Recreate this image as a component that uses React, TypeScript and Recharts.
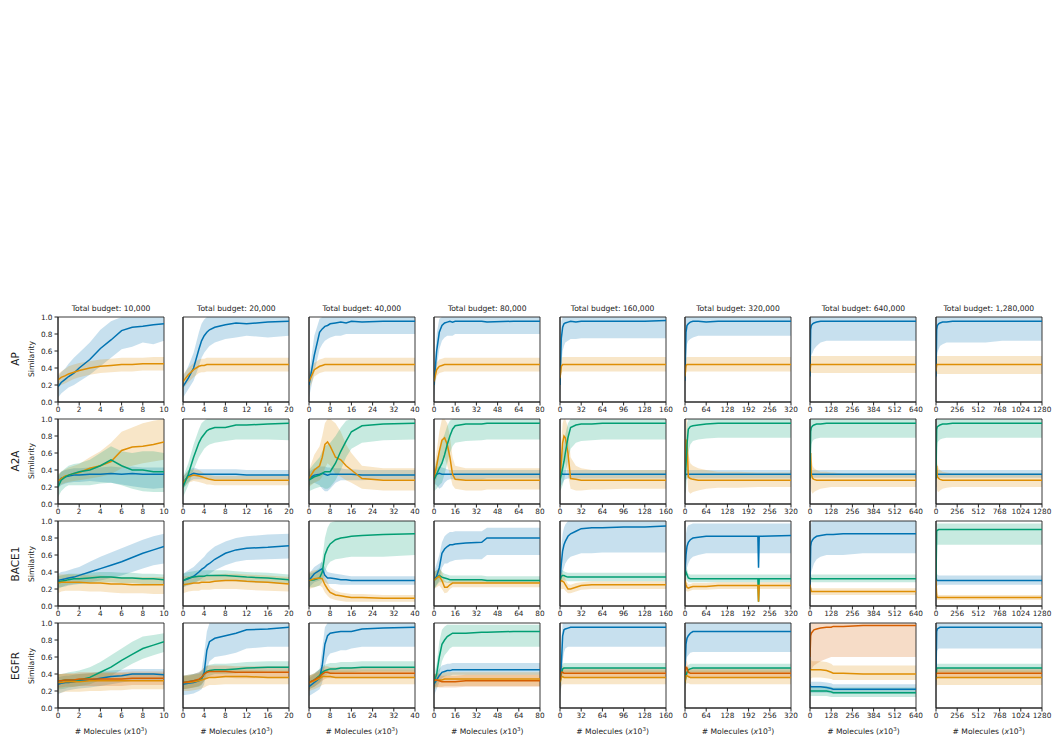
import React from 'react'
import { ComposedChart, Line, Area, XAxis, YAxis, ReferenceArea } from 'recharts'

// x positions (thousands of molecules) at which every series is sampled, one list per budget column
const X_GRID = [
  [0, 0.3, 0.7, 1, 1.5, 2, 3, 4, 5, 6, 7, 8, 9, 10],
  [0, 1, 2, 3, 3.5, 4, 4.5, 5, 6, 8, 10, 12, 16, 20],
  [0, 2, 4, 5, 6, 7, 8, 10, 12, 14, 16, 20, 28, 40],
  [0, 2, 4, 6, 8, 10, 12, 14, 16, 24, 36, 40, 60, 80],
  [0, 2, 4, 6, 8, 12, 16, 24, 32, 48, 64, 96, 128, 160],
  [0, 3, 6, 10, 16, 24, 40, 64, 100, 160, 220, 222, 224, 320],
  [0, 4, 8, 16, 24, 40, 64, 100, 128, 140, 200, 320, 480, 640],
  [0, 8, 16, 32, 48, 80, 128, 200, 300, 450, 600, 800, 1000, 1280],
]
const BUDGETS = [10, 20, 40, 80, 160, 320, 640, 1280]
const BUDGET_LABELS = ['10,000', '20,000', '40,000', '80,000', '160,000', '320,000', '640,000', '1,280,000']
const X_TICKS = [
  [0, 2, 4, 6, 8, 10],
  [0, 4, 8, 12, 16, 20],
  [0, 8, 16, 24, 32, 40],
  [0, 16, 32, 48, 64, 80],
  [0, 32, 64, 96, 128, 160],
  [0, 64, 128, 192, 256, 320],
  [0, 128, 256, 384, 512, 640],
  [0, 256, 512, 768, 1024, 1280],
]
const Y_TICKS = [0, 0.2, 0.4, 0.6, 0.8, 1]

// similarity values in percent, [column][sample]
const AP_BLUE_MEAN = [
  [18, 23, 27, 30, 34, 40, 50, 63, 73, 84, 88, 89, 91, 92],
  [18, 28, 40, 62, 72, 78, 82, 85, 88, 91, 93, 92, 94, 95],
  [20, 55, 82, 86, 89, 90, 92, 93, 94, 93, 95, 94, 95, 95],
  [20, 60, 82, 90, 93, 94, 95, 94, 95, 95, 95, 94, 95, 95],
  [20, 75, 88, 92, 93, 94, 95, 94, 95, 95, 95, 95, 95, 96],
  [25, 82, 90, 92, 94, 95, 95, 94, 95, 95, 95, 95, 95, 95],
  [30, 85, 90, 92, 93, 94, 95, 95, 95, 95, 95, 95, 95, 95],
  [30, 85, 90, 92, 93, 94, 94, 95, 95, 95, 95, 95, 95, 95],
]
const AP_BLUE_LO = [
  [5, 10, 14, 17, 20, 24, 32, 42, 52, 62, 65, 70, 68, 72],
  [5, 15, 25, 42, 52, 58, 62, 66, 70, 74, 76, 78, 76, 78],
  [5, 35, 62, 68, 72, 74, 76, 78, 78, 80, 80, 80, 80, 80],
  [5, 40, 62, 72, 76, 78, 78, 78, 80, 80, 80, 80, 80, 80],
  [5, 45, 60, 66, 70, 72, 74, 74, 75, 75, 75, 75, 75, 75],
  [8, 55, 68, 72, 74, 76, 78, 78, 78, 78, 78, 78, 78, 78],
  [10, 50, 55, 58, 62, 66, 70, 72, 72, 72, 72, 72, 72, 72],
  [10, 50, 58, 62, 66, 68, 70, 70, 70, 70, 70, 72, 72, 72],
]
const AP_BLUE_HI = [
  [30, 35, 40, 45, 52, 58, 70, 85, 95, 100, 100, 100, 100, 100],
  [30, 42, 58, 82, 92, 97, 100, 100, 100, 100, 100, 100, 100, 100],
  [32, 78, 98, 100, 100, 100, 100, 100, 100, 100, 100, 100, 100, 100],
  [32, 80, 98, 100, 100, 100, 100, 100, 100, 100, 100, 100, 100, 100],
  [32, 95, 100, 100, 100, 100, 100, 100, 100, 100, 100, 100, 100, 100],
  [40, 100, 100, 100, 100, 100, 100, 100, 100, 100, 100, 100, 100, 100],
  [45, 100, 100, 100, 100, 100, 100, 100, 100, 100, 100, 100, 100, 100],
  [45, 100, 100, 100, 100, 100, 100, 100, 100, 100, 100, 100, 100, 100],
]
const AP_ORANGE_MEAN = [
  [26, 29, 31, 33, 35, 37, 40, 42, 43, 44, 44, 45, 45, 45],
  [24, 32, 38, 42, 43, 43, 44, 44, 44, 44, 44, 44, 44, 44],
  [24, 38, 42, 43, 44, 44, 44, 44, 44, 44, 44, 44, 44, 44],
  [24, 38, 42, 43, 44, 44, 44, 44, 44, 44, 44, 44, 44, 44],
  [28, 42, 44, 44, 44, 44, 44, 44, 44, 44, 44, 44, 44, 44],
  [30, 43, 44, 44, 44, 44, 44, 44, 44, 44, 44, 44, 44, 44],
  [36, 44, 44, 44, 44, 44, 44, 44, 44, 44, 44, 44, 44, 44],
  [36, 44, 44, 44, 44, 44, 44, 44, 44, 44, 44, 44, 44, 44],
]
const AP_ORANGE_LO = [
  [17, 20, 22, 24, 27, 29, 32, 34, 35, 36, 36, 37, 37, 37],
  [16, 23, 29, 34, 35, 35, 36, 36, 36, 36, 36, 36, 36, 36],
  [15, 30, 34, 35, 36, 36, 36, 36, 36, 36, 36, 36, 36, 36],
  [15, 30, 34, 35, 36, 36, 36, 36, 36, 36, 36, 36, 36, 36],
  [18, 34, 36, 36, 36, 36, 36, 36, 36, 36, 36, 36, 36, 36],
  [20, 35, 36, 36, 36, 36, 36, 36, 36, 36, 36, 36, 36, 36],
  [26, 34, 34, 34, 34, 34, 34, 34, 34, 34, 34, 34, 34, 34],
  [26, 33, 33, 33, 33, 33, 33, 33, 33, 33, 33, 33, 33, 33],
]
const AP_ORANGE_HI = [
  [33, 36, 39, 42, 44, 46, 48, 50, 51, 52, 52, 52, 53, 53],
  [32, 40, 46, 50, 51, 51, 52, 52, 52, 52, 52, 52, 52, 52],
  [32, 46, 50, 51, 52, 52, 52, 52, 52, 52, 52, 52, 52, 52],
  [32, 46, 50, 51, 52, 52, 52, 52, 52, 52, 52, 52, 52, 52],
  [38, 52, 53, 53, 53, 53, 53, 53, 53, 53, 53, 53, 53, 53],
  [40, 52, 53, 53, 53, 53, 53, 53, 53, 53, 53, 53, 53, 53],
  [46, 54, 54, 54, 54, 54, 54, 54, 54, 54, 54, 54, 54, 54],
  [46, 54, 54, 54, 54, 54, 54, 54, 54, 54, 54, 54, 54, 54],
]

const A2A_BLUE_MEAN = [
  [26, 30, 32, 33, 34, 34, 35, 35, 36, 35, 36, 35, 35, 35],
  [25, 33, 36, 35, 35, 35, 35, 35, 35, 35, 35, 34, 34, 34],
  [30, 34, 35, 36, 35, 34, 35, 35, 35, 35, 35, 34, 34, 34],
  [32, 35, 36, 35, 35, 35, 35, 35, 35, 35, 35, 35, 35, 35],
  [33, 36, 35, 35, 35, 35, 35, 35, 35, 35, 35, 35, 35, 35],
  [33, 35, 35, 35, 35, 35, 35, 35, 35, 35, 35, 35, 35, 35],
  [35, 35, 35, 35, 35, 35, 35, 35, 35, 35, 35, 35, 35, 35],
  [35, 35, 35, 35, 35, 35, 35, 35, 35, 35, 35, 35, 35, 35],
]
const A2A_BLUE_LO = [
  [18, 22, 24, 25, 26, 26, 27, 26, 25, 23, 21, 19, 18, 19],
  [18, 26, 29, 29, 29, 29, 29, 29, 29, 29, 29, 29, 29, 29],
  [22, 25, 22, 18, 15, 15, 18, 25, 28, 28, 28, 28, 29, 29],
  [24, 22, 18, 20, 25, 28, 29, 29, 29, 29, 29, 30, 30, 30],
  [20, 22, 25, 28, 29, 30, 30, 30, 30, 30, 30, 30, 30, 30],
  [25, 28, 30, 30, 30, 30, 30, 30, 30, 30, 30, 30, 30, 30],
  [28, 30, 31, 31, 31, 31, 31, 31, 31, 31, 31, 31, 31, 31],
  [28, 30, 31, 31, 31, 31, 31, 31, 31, 31, 31, 31, 31, 31],
]
const A2A_BLUE_HI = [
  [34, 38, 40, 41, 42, 42, 43, 43, 44, 43, 44, 43, 43, 43],
  [32, 40, 43, 41, 41, 41, 41, 41, 41, 41, 41, 40, 40, 40],
  [38, 42, 44, 44, 44, 43, 43, 42, 42, 41, 41, 40, 40, 40],
  [40, 43, 44, 43, 42, 41, 40, 40, 40, 40, 40, 40, 40, 40],
  [40, 42, 41, 40, 40, 40, 40, 40, 40, 40, 40, 40, 40, 40],
  [40, 42, 41, 40, 40, 40, 40, 40, 40, 40, 40, 40, 40, 40],
  [42, 41, 40, 40, 40, 40, 40, 40, 40, 40, 40, 40, 40, 40],
  [42, 41, 40, 40, 40, 40, 40, 40, 40, 40, 40, 40, 40, 40],
]
const A2A_ORANGE_MEAN = [
  [27, 30, 33, 34, 36, 37, 42, 45, 50, 63, 67, 68, 70, 73],
  [25, 32, 34, 33, 32, 31, 30, 29, 28, 28, 28, 28, 28, 28],
  [30, 40, 45, 55, 70, 73, 68, 55, 52, 45, 40, 30, 28, 28],
  [30, 45, 62, 75, 78, 70, 55, 35, 29, 28, 28, 28, 28, 28],
  [30, 50, 72, 80, 78, 60, 30, 29, 28, 28, 28, 28, 28, 28],
  [35, 75, 75, 32, 30, 29, 28, 28, 28, 28, 28, 28, 28, 28],
  [35, 60, 35, 30, 29, 28, 28, 28, 28, 28, 28, 28, 28, 28],
  [35, 45, 32, 30, 29, 28, 28, 28, 28, 28, 28, 28, 28, 28],
]
const A2A_ORANGE_LO = [
  [20, 23, 25, 26, 27, 28, 30, 32, 35, 42, 45, 48, 50, 52],
  [18, 25, 27, 26, 25, 24, 23, 23, 22, 22, 22, 22, 22, 22],
  [20, 25, 28, 32, 42, 48, 45, 35, 32, 28, 25, 18, 16, 16],
  [20, 30, 40, 50, 55, 45, 35, 22, 18, 16, 16, 17, 17, 17],
  [20, 30, 45, 55, 50, 35, 18, 16, 16, 17, 17, 18, 18, 18],
  [20, 40, 40, 15, 12, 14, 16, 18, 19, 19, 20, 20, 20, 20],
  [20, 25, 15, 12, 14, 16, 18, 19, 20, 20, 20, 20, 20, 20],
  [20, 20, 15, 14, 16, 18, 19, 20, 20, 20, 20, 20, 20, 20],
]
const A2A_ORANGE_HI = [
  [35, 38, 41, 43, 45, 47, 55, 62, 72, 85, 90, 95, 98, 100],
  [32, 39, 41, 40, 38, 36, 35, 34, 33, 33, 33, 33, 33, 33],
  [40, 58, 68, 80, 95, 100, 100, 95, 85, 70, 60, 45, 42, 42],
  [40, 62, 85, 100, 100, 95, 80, 55, 45, 42, 42, 42, 42, 42],
  [40, 75, 95, 100, 100, 90, 55, 45, 42, 40, 40, 40, 40, 40],
  [50, 100, 100, 60, 48, 45, 42, 40, 38, 38, 37, 37, 37, 37],
  [50, 90, 55, 45, 42, 40, 38, 38, 37, 37, 36, 36, 36, 36],
  [50, 70, 48, 42, 40, 38, 37, 36, 36, 36, 36, 36, 36, 36],
]
const A2A_GREEN_MEAN = [
  [20, 28, 32, 34, 36, 38, 40, 45, 52, 45, 40, 40, 38, 38],
  [20, 35, 55, 72, 78, 82, 86, 88, 90, 90, 93, 93, 94, 95],
  [28, 32, 34, 36, 38, 38, 38, 48, 62, 74, 85, 92, 94, 95],
  [28, 35, 42, 48, 58, 70, 80, 88, 92, 94, 94, 95, 95, 95],
  [28, 35, 42, 50, 60, 78, 90, 93, 94, 94, 95, 95, 95, 95],
  [30, 45, 70, 88, 91, 92, 93, 94, 95, 95, 95, 95, 95, 95],
  [30, 85, 90, 92, 93, 94, 94, 95, 95, 95, 95, 95, 95, 95],
  [30, 88, 91, 92, 93, 94, 94, 95, 95, 95, 95, 95, 95, 95],
]
const A2A_GREEN_LO = [
  [8, 15, 20, 22, 22, 22, 22, 24, 25, 22, 18, 15, 14, 14],
  [8, 22, 40, 55, 60, 65, 68, 70, 72, 74, 76, 76, 76, 75],
  [15, 18, 20, 20, 18, 18, 20, 28, 40, 55, 65, 72, 75, 76],
  [15, 18, 22, 25, 35, 48, 60, 68, 72, 74, 75, 76, 76, 76],
  [15, 18, 22, 28, 35, 50, 65, 72, 74, 75, 76, 76, 76, 76],
  [12, 15, 30, 60, 70, 74, 76, 77, 78, 78, 78, 78, 78, 78],
  [12, 60, 70, 74, 76, 77, 78, 78, 78, 78, 78, 78, 78, 78],
  [12, 60, 72, 74, 76, 77, 78, 78, 78, 78, 78, 78, 78, 78],
]
const A2A_GREEN_HI = [
  [32, 38, 42, 45, 47, 48, 52, 60, 68, 62, 60, 62, 62, 60],
  [32, 48, 70, 88, 95, 98, 100, 100, 100, 100, 100, 100, 100, 100],
  [40, 48, 55, 62, 68, 70, 72, 80, 90, 98, 100, 100, 100, 100],
  [40, 52, 62, 75, 82, 92, 98, 100, 100, 100, 100, 100, 100, 100],
  [40, 52, 62, 72, 82, 95, 100, 100, 100, 100, 100, 100, 100, 100],
  [45, 75, 95, 100, 100, 100, 100, 100, 100, 100, 100, 100, 100, 100],
  [45, 100, 100, 100, 100, 100, 100, 100, 100, 100, 100, 100, 100, 100],
  [45, 100, 100, 100, 100, 100, 100, 100, 100, 100, 100, 100, 100, 100],
]

const BACE_BLUE_MEAN = [
  [30, 31, 32, 33, 34, 36, 40, 44, 48, 52, 57, 62, 66, 70],
  [30, 32, 35, 40, 43, 45, 48, 50, 55, 62, 66, 68, 69, 71],
  [30, 38, 42, 44, 36, 33, 33, 32, 31, 31, 30, 30, 30, 30],
  [30, 35, 45, 62, 67, 70, 72, 72, 73, 74, 75, 80, 80, 80],
  [30, 50, 65, 72, 76, 82, 85, 88, 91, 92, 92, 93, 93, 94],
  [40, 60, 70, 75, 78, 80, 81, 82, 82, 82, 82, 45, 82, 83],
  [25, 70, 75, 78, 80, 82, 83, 84, 84, 84, 85, 85, 85, 85],
  [35, 30, 30, 30, 30, 30, 30, 30, 30, 30, 30, 30, 30, 30],
]
const BACE_BLUE_LO = [
  [22, 22, 23, 24, 25, 26, 28, 30, 33, 36, 40, 44, 48, 50],
  [22, 24, 26, 30, 32, 34, 36, 38, 42, 48, 52, 54, 55, 56],
  [22, 28, 30, 32, 28, 26, 26, 26, 25, 25, 25, 25, 25, 25],
  [20, 25, 30, 45, 50, 50, 52, 53, 54, 55, 55, 60, 60, 60],
  [20, 30, 40, 45, 50, 55, 58, 60, 62, 62, 63, 63, 63, 63],
  [25, 35, 45, 50, 55, 58, 60, 62, 62, 62, 62, 40, 62, 62],
  [15, 35, 40, 45, 50, 55, 58, 60, 60, 60, 60, 62, 62, 62],
  [20, 22, 24, 25, 25, 25, 25, 25, 25, 25, 25, 25, 25, 25],
]
const BACE_BLUE_HI = [
  [38, 40, 41, 42, 44, 46, 52, 58, 63, 68, 73, 78, 82, 85],
  [38, 42, 46, 52, 55, 58, 62, 65, 70, 76, 80, 82, 84, 85],
  [38, 46, 50, 52, 45, 40, 39, 38, 37, 36, 35, 35, 35, 35],
  [40, 50, 60, 75, 82, 85, 87, 87, 88, 88, 88, 92, 92, 92],
  [40, 70, 85, 92, 96, 100, 100, 100, 100, 100, 100, 100, 100, 100],
  [55, 85, 92, 95, 96, 97, 97, 97, 97, 97, 97, 97, 97, 97],
  [40, 95, 98, 100, 100, 100, 100, 100, 100, 100, 100, 100, 100, 100],
  [45, 38, 37, 36, 36, 36, 36, 36, 36, 36, 36, 36, 36, 36],
]
const BACE_GREEN_MEAN = [
  [28, 29, 30, 31, 32, 32, 33, 34, 34, 33, 33, 32, 32, 31],
  [30, 33, 34, 35, 35, 35, 36, 36, 36, 36, 35, 34, 33, 31],
  [30, 31, 33, 40, 60, 68, 73, 78, 80, 81, 82, 83, 84, 85],
  [30, 33, 36, 34, 33, 32, 31, 31, 31, 31, 31, 30, 30, 30],
  [30, 35, 36, 36, 35, 34, 34, 34, 34, 34, 34, 34, 34, 34],
  [35, 40, 37, 33, 32, 32, 32, 32, 32, 32, 32, 5, 32, 32],
  [33, 33, 32, 32, 32, 32, 32, 32, 32, 32, 32, 32, 32, 32],
  [30, 88, 89, 90, 90, 90, 90, 90, 90, 90, 90, 90, 90, 90],
]
const BACE_GREEN_LO = [
  [20, 22, 24, 25, 26, 26, 27, 28, 28, 27, 27, 26, 26, 26],
  [22, 26, 28, 29, 29, 29, 30, 30, 30, 30, 29, 28, 27, 26],
  [22, 22, 24, 28, 40, 48, 52, 55, 56, 57, 58, 58, 58, 60],
  [20, 24, 28, 28, 28, 27, 27, 27, 27, 27, 27, 27, 27, 27],
  [22, 28, 30, 30, 30, 29, 29, 29, 29, 29, 29, 29, 29, 29],
  [25, 32, 30, 28, 28, 28, 28, 28, 28, 28, 28, 3, 28, 28],
  [26, 28, 28, 28, 28, 28, 28, 28, 28, 28, 28, 28, 28, 28],
  [20, 70, 72, 72, 72, 72, 72, 72, 72, 72, 72, 72, 72, 72],
]
const BACE_GREEN_HI = [
  [35, 36, 37, 38, 38, 38, 39, 40, 40, 39, 39, 38, 38, 37],
  [38, 40, 41, 42, 42, 42, 42, 42, 42, 42, 41, 40, 39, 37],
  [38, 40, 45, 55, 80, 92, 98, 100, 100, 100, 100, 100, 100, 100],
  [40, 42, 44, 40, 38, 37, 36, 36, 36, 36, 36, 35, 35, 35],
  [40, 42, 42, 41, 40, 39, 39, 39, 39, 39, 39, 39, 39, 39],
  [45, 48, 44, 38, 37, 37, 37, 37, 37, 37, 37, 37, 37, 37],
  [40, 38, 37, 37, 37, 37, 37, 37, 37, 37, 37, 37, 37, 37],
  [40, 96, 97, 97, 97, 97, 97, 97, 97, 97, 97, 97, 97, 97],
]
const BACE_ORANGE_MEAN = [
  [27, 28, 28, 28, 28, 28, 27, 27, 26, 26, 25, 25, 25, 25],
  [25, 26, 27, 27, 28, 28, 28, 28, 29, 30, 30, 29, 28, 26],
  [30, 32, 33, 32, 25, 20, 16, 13, 12, 11, 10, 10, 9, 9],
  [30, 33, 35, 30, 22, 22, 25, 27, 27, 27, 27, 27, 27, 27],
  [28, 30, 29, 28, 25, 20, 20, 22, 24, 25, 25, 25, 25, 25],
  [30, 25, 22, 21, 22, 23, 23, 23, 24, 24, 24, 5, 24, 24],
  [25, 20, 17, 17, 17, 17, 17, 17, 17, 17, 17, 17, 17, 17],
  [30, 12, 10, 10, 10, 10, 10, 10, 10, 10, 10, 10, 10, 10],
]
const BACE_ORANGE_LO = [
  [15, 17, 18, 18, 18, 18, 17, 17, 16, 15, 15, 15, 14, 14],
  [15, 17, 18, 18, 19, 19, 19, 19, 20, 20, 20, 19, 18, 17],
  [20, 22, 24, 22, 16, 12, 9, 7, 6, 5, 5, 5, 5, 5],
  [20, 22, 24, 20, 15, 16, 20, 22, 22, 22, 22, 22, 22, 22],
  [18, 20, 20, 20, 18, 15, 15, 17, 19, 20, 20, 20, 20, 20],
  [20, 18, 17, 17, 18, 19, 19, 19, 20, 20, 20, 2, 20, 20],
  [15, 14, 13, 13, 13, 13, 13, 13, 13, 13, 13, 13, 13, 13],
  [10, 7, 7, 7, 7, 7, 7, 7, 7, 7, 7, 7, 7, 7],
]
const BACE_ORANGE_HI = [
  [37, 37, 37, 37, 37, 37, 36, 36, 35, 34, 34, 34, 34, 34],
  [35, 35, 36, 36, 36, 36, 36, 36, 37, 38, 38, 37, 36, 34],
  [40, 42, 42, 40, 34, 28, 22, 18, 16, 15, 14, 14, 13, 13],
  [40, 42, 45, 40, 30, 28, 30, 31, 31, 31, 31, 31, 31, 31],
  [38, 40, 38, 36, 32, 26, 25, 27, 28, 29, 29, 29, 29, 29],
  [40, 32, 28, 26, 26, 27, 27, 27, 28, 28, 28, 28, 28, 28],
  [35, 26, 21, 21, 21, 21, 21, 21, 21, 21, 21, 21, 21, 21],
  [35, 18, 14, 13, 13, 13, 13, 13, 13, 13, 13, 13, 13, 13],
]

const EGFR_BLUE_MEAN = [
  [28, 29, 30, 30, 31, 32, 33, 35, 37, 38, 40, 40, 40, 39],
  [28, 29, 30, 32, 34, 42, 68, 78, 82, 85, 88, 92, 93, 95],
  [25, 30, 35, 50, 75, 85, 88, 89, 90, 90, 90, 93, 94, 95],
  [28, 33, 38, 42, 43, 44, 44, 45, 45, 45, 45, 45, 45, 45],
  [30, 50, 85, 92, 93, 94, 95, 95, 95, 95, 95, 95, 95, 95],
  [45, 75, 82, 85, 88, 90, 90, 90, 90, 90, 90, 90, 90, 90],
  [28, 25, 25, 25, 25, 25, 25, 24, 23, 22, 22, 22, 22, 22],
  [40, 90, 93, 94, 95, 95, 95, 95, 95, 95, 95, 95, 95, 95],
]
const EGFR_BLUE_LO = [
  [16, 18, 20, 21, 22, 23, 24, 26, 28, 30, 32, 33, 33, 33],
  [15, 16, 17, 20, 22, 28, 45, 55, 60, 62, 65, 70, 72, 72],
  [14, 18, 22, 30, 50, 60, 64, 66, 68, 68, 70, 72, 72, 72],
  [15, 22, 30, 35, 37, 38, 38, 39, 39, 39, 39, 39, 39, 39],
  [12, 25, 55, 65, 70, 72, 72, 72, 72, 72, 72, 72, 72, 72],
  [25, 50, 60, 62, 65, 66, 66, 66, 66, 66, 66, 66, 66, 66],
  [20, 18, 18, 18, 18, 18, 18, 18, 17, 17, 17, 17, 17, 17],
  [25, 65, 68, 70, 70, 70, 70, 70, 70, 70, 70, 70, 70, 70],
]
const EGFR_BLUE_HI = [
  [36, 37, 38, 38, 39, 40, 41, 43, 44, 45, 46, 46, 46, 46],
  [38, 38, 40, 42, 45, 65, 90, 100, 100, 100, 100, 100, 100, 100],
  [35, 40, 46, 70, 95, 100, 100, 100, 100, 100, 100, 100, 100, 100],
  [38, 42, 46, 50, 51, 52, 52, 53, 53, 53, 53, 53, 53, 53],
  [45, 80, 100, 100, 100, 100, 100, 100, 100, 100, 100, 100, 100, 100],
  [65, 100, 100, 100, 100, 100, 100, 100, 100, 100, 100, 100, 100, 100],
  [35, 31, 31, 31, 31, 31, 31, 30, 29, 28, 28, 28, 28, 28],
  [55, 100, 100, 100, 100, 100, 100, 100, 100, 100, 100, 100, 100, 100],
]
const EGFR_GREEN_MEAN = [
  [32, 32, 33, 33, 33, 33, 36, 42, 48, 56, 63, 70, 74, 78],
  [30, 31, 32, 33, 35, 40, 43, 44, 45, 45, 46, 47, 48, 48],
  [30, 33, 38, 42, 44, 45, 46, 46, 47, 47, 47, 48, 48, 48],
  [30, 40, 60, 75, 80, 84, 86, 88, 88, 88, 89, 89, 90, 90],
  [30, 40, 46, 47, 47, 47, 47, 47, 47, 47, 47, 47, 47, 47],
  [30, 38, 42, 45, 46, 47, 47, 47, 47, 47, 47, 47, 47, 47],
  [20, 20, 20, 20, 20, 20, 20, 20, 19, 18, 18, 18, 18, 18],
  [35, 47, 47, 47, 47, 47, 47, 47, 47, 47, 47, 47, 47, 47],
]
const EGFR_GREEN_LO = [
  [22, 22, 23, 24, 25, 26, 28, 33, 38, 45, 52, 58, 62, 66],
  [22, 23, 24, 25, 27, 32, 36, 38, 40, 40, 41, 42, 43, 43],
  [22, 25, 30, 35, 38, 40, 41, 42, 42, 42, 42, 43, 43, 43],
  [22, 28, 40, 55, 62, 66, 70, 72, 72, 72, 72, 72, 72, 72],
  [22, 32, 41, 42, 42, 42, 42, 42, 42, 42, 42, 42, 42, 42],
  [22, 30, 37, 41, 42, 42, 42, 42, 42, 42, 42, 42, 42, 42],
  [14, 14, 14, 14, 14, 14, 14, 14, 13, 13, 13, 13, 13, 13],
  [25, 42, 42, 42, 42, 42, 42, 42, 42, 42, 42, 42, 42, 42],
]
const EGFR_GREEN_HI = [
  [40, 40, 41, 42, 43, 44, 48, 54, 62, 70, 78, 84, 86, 88],
  [38, 39, 40, 41, 43, 48, 50, 51, 52, 52, 53, 54, 55, 55],
  [38, 41, 46, 49, 51, 52, 53, 53, 54, 54, 54, 55, 55, 55],
  [38, 52, 78, 92, 96, 98, 98, 98, 98, 98, 98, 98, 98, 98],
  [38, 48, 52, 53, 53, 53, 53, 53, 53, 53, 53, 53, 53, 53],
  [38, 46, 48, 51, 52, 52, 52, 52, 52, 52, 52, 52, 52, 52],
  [26, 26, 26, 26, 26, 26, 26, 26, 25, 24, 24, 24, 24, 24],
  [45, 52, 52, 52, 52, 52, 52, 52, 52, 52, 52, 52, 52, 52],
]
const EGFR_ORANGE_MEAN = [
  [30, 30, 31, 31, 31, 31, 32, 32, 32, 32, 32, 32, 32, 32],
  [30, 30, 31, 32, 33, 34, 35, 36, 36, 37, 37, 37, 36, 36],
  [30, 32, 35, 37, 37, 37, 37, 36, 36, 36, 36, 36, 36, 36],
  [32, 33, 33, 33, 34, 34, 34, 34, 34, 34, 34, 34, 34, 34],
  [30, 36, 37, 36, 36, 36, 36, 36, 36, 36, 36, 36, 36, 36],
  [30, 38, 38, 37, 36, 36, 36, 36, 36, 36, 36, 36, 36, 36],
  [45, 45, 45, 45, 45, 45, 45, 44, 42, 41, 41, 40, 40, 40],
  [33, 36, 36, 36, 36, 36, 36, 36, 36, 36, 36, 36, 36, 36],
]
const EGFR_ORANGE_LO = [
  [18, 18, 19, 19, 19, 19, 20, 20, 21, 21, 22, 22, 22, 22],
  [20, 20, 21, 22, 23, 24, 26, 27, 27, 28, 28, 28, 28, 28],
  [20, 22, 25, 27, 28, 28, 28, 28, 28, 28, 28, 28, 28, 28],
  [22, 24, 25, 25, 26, 26, 26, 26, 26, 26, 26, 26, 26, 26],
  [15, 26, 28, 28, 28, 28, 28, 28, 28, 28, 28, 28, 28, 28],
  [18, 28, 29, 29, 28, 28, 28, 28, 28, 28, 28, 28, 28, 28],
  [30, 33, 35, 36, 36, 36, 36, 35, 34, 33, 33, 33, 33, 33],
  [22, 26, 27, 27, 27, 27, 27, 27, 27, 27, 27, 27, 27, 27],
]
const EGFR_ORANGE_HI = [
  [40, 40, 40, 40, 40, 40, 41, 41, 41, 41, 41, 41, 41, 41],
  [38, 38, 39, 40, 41, 42, 43, 44, 44, 45, 45, 45, 44, 44],
  [38, 40, 43, 45, 45, 45, 45, 44, 44, 44, 44, 44, 44, 44],
  [40, 41, 41, 41, 42, 42, 42, 42, 42, 42, 42, 42, 42, 42],
  [40, 44, 45, 44, 44, 44, 44, 44, 44, 44, 44, 44, 44, 44],
  [40, 47, 46, 45, 44, 44, 44, 44, 44, 44, 44, 44, 44, 44],
  [62, 58, 56, 55, 55, 55, 55, 54, 52, 50, 50, 50, 50, 50],
  [42, 44, 44, 44, 44, 44, 44, 44, 44, 44, 44, 44, 44, 44],
]
const EGFR_VERM_MEAN = [
  [32, 32, 33, 33, 33, 34, 34, 34, 34, 34, 35, 35, 35, 35],
  [30, 31, 32, 34, 36, 40, 42, 43, 43, 43, 42, 42, 42, 42],
  [30, 33, 37, 40, 42, 42, 41, 41, 41, 41, 41, 41, 41, 41],
  [33, 33, 32, 31, 31, 31, 31, 31, 31, 32, 32, 32, 32, 32],
  [33, 42, 42, 41, 41, 41, 41, 41, 41, 41, 41, 41, 41, 41],
  [40, 48, 47, 42, 41, 41, 41, 41, 41, 41, 41, 41, 41, 41],
  [60, 85, 88, 90, 92, 93, 94, 95, 95, 96, 96, 97, 97, 97],
  [38, 41, 41, 41, 41, 41, 41, 41, 41, 41, 41, 41, 41, 41],
]
const EGFR_VERM_LO = [
  [24, 24, 25, 25, 25, 26, 26, 26, 26, 26, 27, 27, 27, 27],
  [22, 23, 24, 26, 28, 32, 35, 36, 36, 36, 35, 35, 35, 35],
  [22, 25, 29, 32, 34, 35, 35, 35, 35, 35, 35, 35, 35, 35],
  [25, 25, 24, 24, 24, 24, 24, 24, 24, 25, 25, 25, 25, 25],
  [22, 35, 36, 35, 35, 35, 35, 35, 35, 35, 35, 35, 35, 35],
  [30, 40, 40, 36, 35, 35, 35, 35, 35, 35, 35, 35, 35, 35],
  [40, 45, 45, 48, 50, 52, 55, 58, 60, 60, 60, 60, 60, 60],
  [30, 35, 35, 35, 35, 35, 35, 35, 35, 35, 35, 35, 35, 35],
]
const EGFR_VERM_HI = [
  [40, 40, 41, 41, 41, 42, 42, 42, 42, 42, 43, 43, 43, 43],
  [38, 39, 40, 42, 44, 48, 49, 50, 50, 50, 49, 49, 49, 49],
  [38, 41, 45, 48, 49, 49, 48, 48, 48, 48, 48, 48, 48, 48],
  [40, 40, 39, 38, 38, 38, 38, 38, 38, 39, 39, 39, 39, 39],
  [42, 50, 49, 48, 47, 47, 47, 47, 47, 47, 47, 47, 47, 47],
  [50, 56, 54, 48, 47, 47, 47, 47, 47, 47, 47, 47, 47, 47],
  [80, 98, 100, 100, 100, 100, 100, 100, 100, 100, 100, 100, 100, 100],
  [46, 47, 47, 47, 47, 47, 47, 47, 47, 47, 47, 47, 47, 47],
]

const BLUE = '#0173B2'
const ORANGE = '#DE8F05'
const GREEN = '#029E73'
const VERM = '#D55E00'

const ROWS = [
  {
    name: 'AP',
    series: [
      { color: BLUE, mean: AP_BLUE_MEAN, lo: AP_BLUE_LO, hi: AP_BLUE_HI },
      { color: ORANGE, mean: AP_ORANGE_MEAN, lo: AP_ORANGE_LO, hi: AP_ORANGE_HI },
    ],
  },
  {
    name: 'A2A',
    series: [
      { color: BLUE, mean: A2A_BLUE_MEAN, lo: A2A_BLUE_LO, hi: A2A_BLUE_HI },
      { color: ORANGE, mean: A2A_ORANGE_MEAN, lo: A2A_ORANGE_LO, hi: A2A_ORANGE_HI },
      { color: GREEN, mean: A2A_GREEN_MEAN, lo: A2A_GREEN_LO, hi: A2A_GREEN_HI },
    ],
  },
  {
    name: 'BACE1',
    series: [
      { color: BLUE, mean: BACE_BLUE_MEAN, lo: BACE_BLUE_LO, hi: BACE_BLUE_HI },
      { color: GREEN, mean: BACE_GREEN_MEAN, lo: BACE_GREEN_LO, hi: BACE_GREEN_HI },
      { color: ORANGE, mean: BACE_ORANGE_MEAN, lo: BACE_ORANGE_LO, hi: BACE_ORANGE_HI },
    ],
  },
  {
    name: 'EGFR',
    series: [
      { color: BLUE, mean: EGFR_BLUE_MEAN, lo: EGFR_BLUE_LO, hi: EGFR_BLUE_HI },
      { color: GREEN, mean: EGFR_GREEN_MEAN, lo: EGFR_GREEN_LO, hi: EGFR_GREEN_HI },
      { color: ORANGE, mean: EGFR_ORANGE_MEAN, lo: EGFR_ORANGE_LO, hi: EGFR_ORANGE_HI },
      { color: VERM, mean: EGFR_VERM_MEAN, lo: EGFR_VERM_LO, hi: EGFR_VERM_HI },
    ],
  },
]

// layout of the plot areas on the page
const PLOT_X0 = 58
const COL_STEP = 125.4
const PLOT_Y0 = 316.7
const ROW_STEP = 102.2
const PLOT_W = 106
const PLOT_H = 85
const Y_AXIS_W = 30
const M_TOP = 6
const M_RIGHT = 14
const X_AXIS_H = 18

const INK = '#222'
const TICK_FONT = 7.3

function Panel({ r, c }: { r: number; c: number }) {
  const row = ROWS[r]
  const data = X_GRID[c].map((x, i) => {
    const d: Record<string, unknown> = { x }
    row.series.forEach((s, k) => {
      d['m' + k] = s.mean[c][i] / 100
      d['b' + k] = [s.lo[c][i] / 100, s.hi[c][i] / 100]
    })
    return d
  })
  const left = Math.round(PLOT_X0 + c * COL_STEP) - Y_AXIS_W
  const top = Math.round(PLOT_Y0 + r * ROW_STEP) - M_TOP

  return (
    <div style={{ position: 'absolute', left, top }}>
      <ComposedChart
        width={Y_AXIS_W + PLOT_W + M_RIGHT}
        height={M_TOP + PLOT_H + X_AXIS_H}
        data={data}
        margin={{ top: M_TOP, right: M_RIGHT, bottom: 0, left: 0 }}
      >
        <XAxis
          dataKey="x"
          type="number"
          domain={[0, BUDGETS[c]]}
          ticks={X_TICKS[c]}
          interval={0}
          height={X_AXIS_H}
          tickSize={3.5}
          tickMargin={1.5}
          stroke={INK}
          tick={{ fontSize: TICK_FONT, fill: INK }}
          allowDataOverflow
        />
        <YAxis
          type="number"
          domain={[0, 1]}
          ticks={Y_TICKS}
          interval={0}
          width={Y_AXIS_W}
          tickSize={3.5}
          tickMargin={2}
          stroke={INK}
          tick={c === 0 ? { fontSize: TICK_FONT, fill: INK } : false}
          tickFormatter={(v: number) => v.toFixed(1)}
          allowDataOverflow
        />
        {row.series.map((s, k) => (
          <Area
            key={'b' + k}
            dataKey={'b' + k}
            type="linear"
            stroke="none"
            fill={s.color}
            fillOpacity={0.22}
            isAnimationActive={false}
          />
        ))}
        {row.series.map((s, k) => (
          <Line
            key={'m' + k}
            dataKey={'m' + k}
            type="linear"
            stroke={s.color}
            strokeWidth={1.5}
            dot={false}
            isAnimationActive={false}
          />
        ))}
        <ReferenceArea x1={0} x2={BUDGETS[c]} y1={0} y2={1} fill="none" stroke={INK} strokeWidth={0.9} />
      </ComposedChart>
    </div>
  )
}

export default function App() {
  return (
    <div
      style={{
        position: 'absolute',
        left: 0,
        top: 0,
        width: 1055,
        height: 736,
        background: '#fff',
        fontFamily: '"DejaVu Sans", sans-serif',
        color: INK,
      }}
    >
      {BUDGET_LABELS.map((b, c) => (
        <div
          key={b}
          style={{
            position: 'absolute',
            left: PLOT_X0 + c * COL_STEP + PLOT_W / 2,
            top: 308,
            transform: 'translate(-50%, -50%)',
            fontSize: 7.6,
            whiteSpace: 'nowrap',
          }}
        >
          Total budget: {b}
        </div>
      ))}
      {ROWS.map((row, r) => {
        const cy = PLOT_Y0 + r * ROW_STEP + PLOT_H / 2
        return (
          <React.Fragment key={row.name}>
            <div
              style={{
                position: 'absolute',
                left: 15,
                top: cy,
                transform: 'translate(-50%, -50%) rotate(-90deg)',
                fontSize: 10.5,
                whiteSpace: 'nowrap',
              }}
            >
              {row.name}
            </div>
            <div
              style={{
                position: 'absolute',
                left: 31,
                top: cy,
                transform: 'translate(-50%, -50%) rotate(-90deg)',
                fontSize: 7.6,
                whiteSpace: 'nowrap',
              }}
            >
              Similarity
            </div>
          </React.Fragment>
        )
      })}
      {BUDGETS.map((b, c) => (
        <div
          key={'xl' + b}
          style={{
            position: 'absolute',
            left: PLOT_X0 + c * COL_STEP + PLOT_W / 2,
            top: 731,
            transform: 'translate(-50%, -50%)',
            fontSize: 7.6,
            whiteSpace: 'nowrap',
          }}
        >
          # Molecules (<i>x</i>10<sup style={{ fontSize: 5.5 }}>3</sup>)
        </div>
      ))}
      {ROWS.map((row, r) => BUDGETS.map((b, c) => <Panel key={row.name + b} r={r} c={c} />))}
    </div>
  )
}
